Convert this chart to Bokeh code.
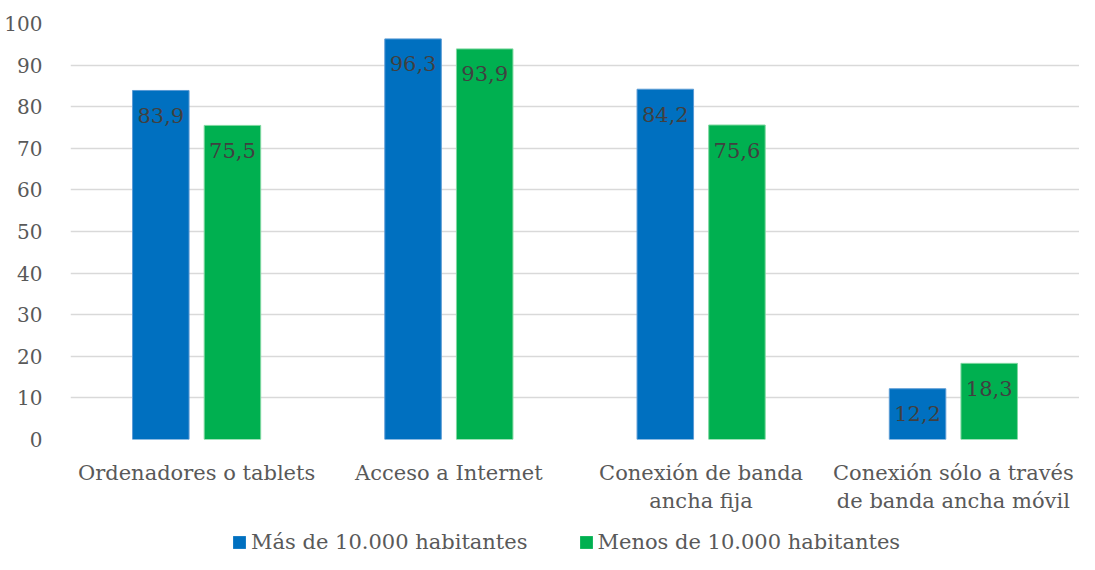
from bokeh.plotting import figure
from bokeh.layouts import column
from bokeh.models import ColumnDataSource, FixedTicker, Legend, LegendItem, Range1d
from bokeh.transform import dodge
from bokeh.core.properties import value
from bokeh.embed import file_html
from bokeh.resources import INLINE

categories = ["Ordenadores o tablets", "Acceso a Internet",
              "Conexión de banda\nancha fija",
              "Conexión sólo a través\nde banda ancha móvil"]
mas_10000 = [83.9, 96.3, 84.2, 12.2]
menos_10000 = [75.5, 93.9, 75.6, 18.3]
series_names = ["Más de 10.000 habitantes", "Menos de 10.000 habitantes"]
y_ticks = [0, 10, 20, 30, 40, 50, 60, 70, 80, 90, 100]

FONT = "DejaVu Serif"
BLUE = "#0070C0"
GREEN = "#00B050"
BLUE_EDGE = "#5B9BD5"
GREEN_EDGE = "#7FD8A0"

xs = list(range(len(categories)))
src = ColumnDataSource(dict(
    x=xs, a=mas_10000, b=menos_10000,
    la=[f"{v:.1f}".replace(".", ",") for v in mas_10000],
    lb=[f"{v:.1f}".replace(".", ",") for v in menos_10000],
))

p = figure(width=1079, height=516, output_backend="svg", toolbar_location=None,
           x_range=Range1d(-0.5, 3.5), y_range=Range1d(0, 100),
           min_border_left=70, min_border_right=0, min_border_top=23,
           min_border_bottom=74)
p.outline_line_color = None

bw = 0.224
off = 0.142
p.vbar(x=dodge("x", -off, range=p.x_range), top="a", width=bw, source=src,
       fill_color=BLUE, line_color=BLUE_EDGE, line_width=1)
p.vbar(x=dodge("x", off, range=p.x_range), top="b", width=bw, source=src,
       fill_color=GREEN, line_color=GREEN_EDGE, line_width=1)

for col, lab, d in (("a", "la", -off), ("b", "lb", off)):
    p.text(x=dodge("x", d, range=p.x_range), y=col, text=lab, source=src,
           text_align="center", text_baseline="middle", y_offset=25,
           text_font=value(FONT), text_font_size="21px", text_color="#404040")

p.xaxis.ticker = FixedTicker(ticks=xs)
p.xaxis.major_label_overrides = {i: c for i, c in enumerate(categories)}
p.yaxis.ticker = FixedTicker(ticks=y_ticks)
for ax in (p.xaxis, p.yaxis):
    ax.axis_line_color = None
    ax.major_tick_line_color = None
    ax.minor_tick_line_color = None
    ax.major_label_text_font = FONT
    ax.major_label_text_color = "#595959"
p.xaxis.major_label_text_font_size = "21px"
p.yaxis.major_label_text_font_size = "20px"
p.xaxis.major_label_standoff = 15
p.yaxis.major_label_standoff = 22

p.xgrid.grid_line_color = None
p.ygrid.grid_line_color = "#D9D9D9"
p.ygrid.grid_line_width = 1.5

# legend strip below the chart (its bars sit outside the visible y range)
lg = figure(width=1079, height=38, output_backend="svg", toolbar_location=None,
            x_range=Range1d(-0.5, 3.5), y_range=Range1d(1000, 1001),
            x_axis_location=None, y_axis_location=None,
            min_border_left=0, min_border_right=0, min_border_top=0,
            min_border_bottom=0)
lg.outline_line_color = None
lg.grid.visible = False
ka = lg.vbar(x="x", top="a", width=0.1, source=src, fill_color=BLUE, line_color=None)
kb = lg.vbar(x="x", top="b", width=0.1, source=src, fill_color=GREEN, line_color=None)
legend = Legend(items=[LegendItem(label=series_names[0], renderers=[ka]),
                       LegendItem(label=series_names[1], renderers=[kb])],
                orientation="horizontal", location=(161, 0),
                label_text_font=FONT, label_text_font_size="21px",
                label_text_color="#595959", glyph_width=16, glyph_height=16,
                spacing=50, padding=0, margin=0, border_line_color=None,
                background_fill_alpha=0, label_standoff=4)
lg.add_layout(legend, "center")

layout = column(p, lg, spacing=0)
open("out.html", "w").write(file_html(layout, INLINE))
